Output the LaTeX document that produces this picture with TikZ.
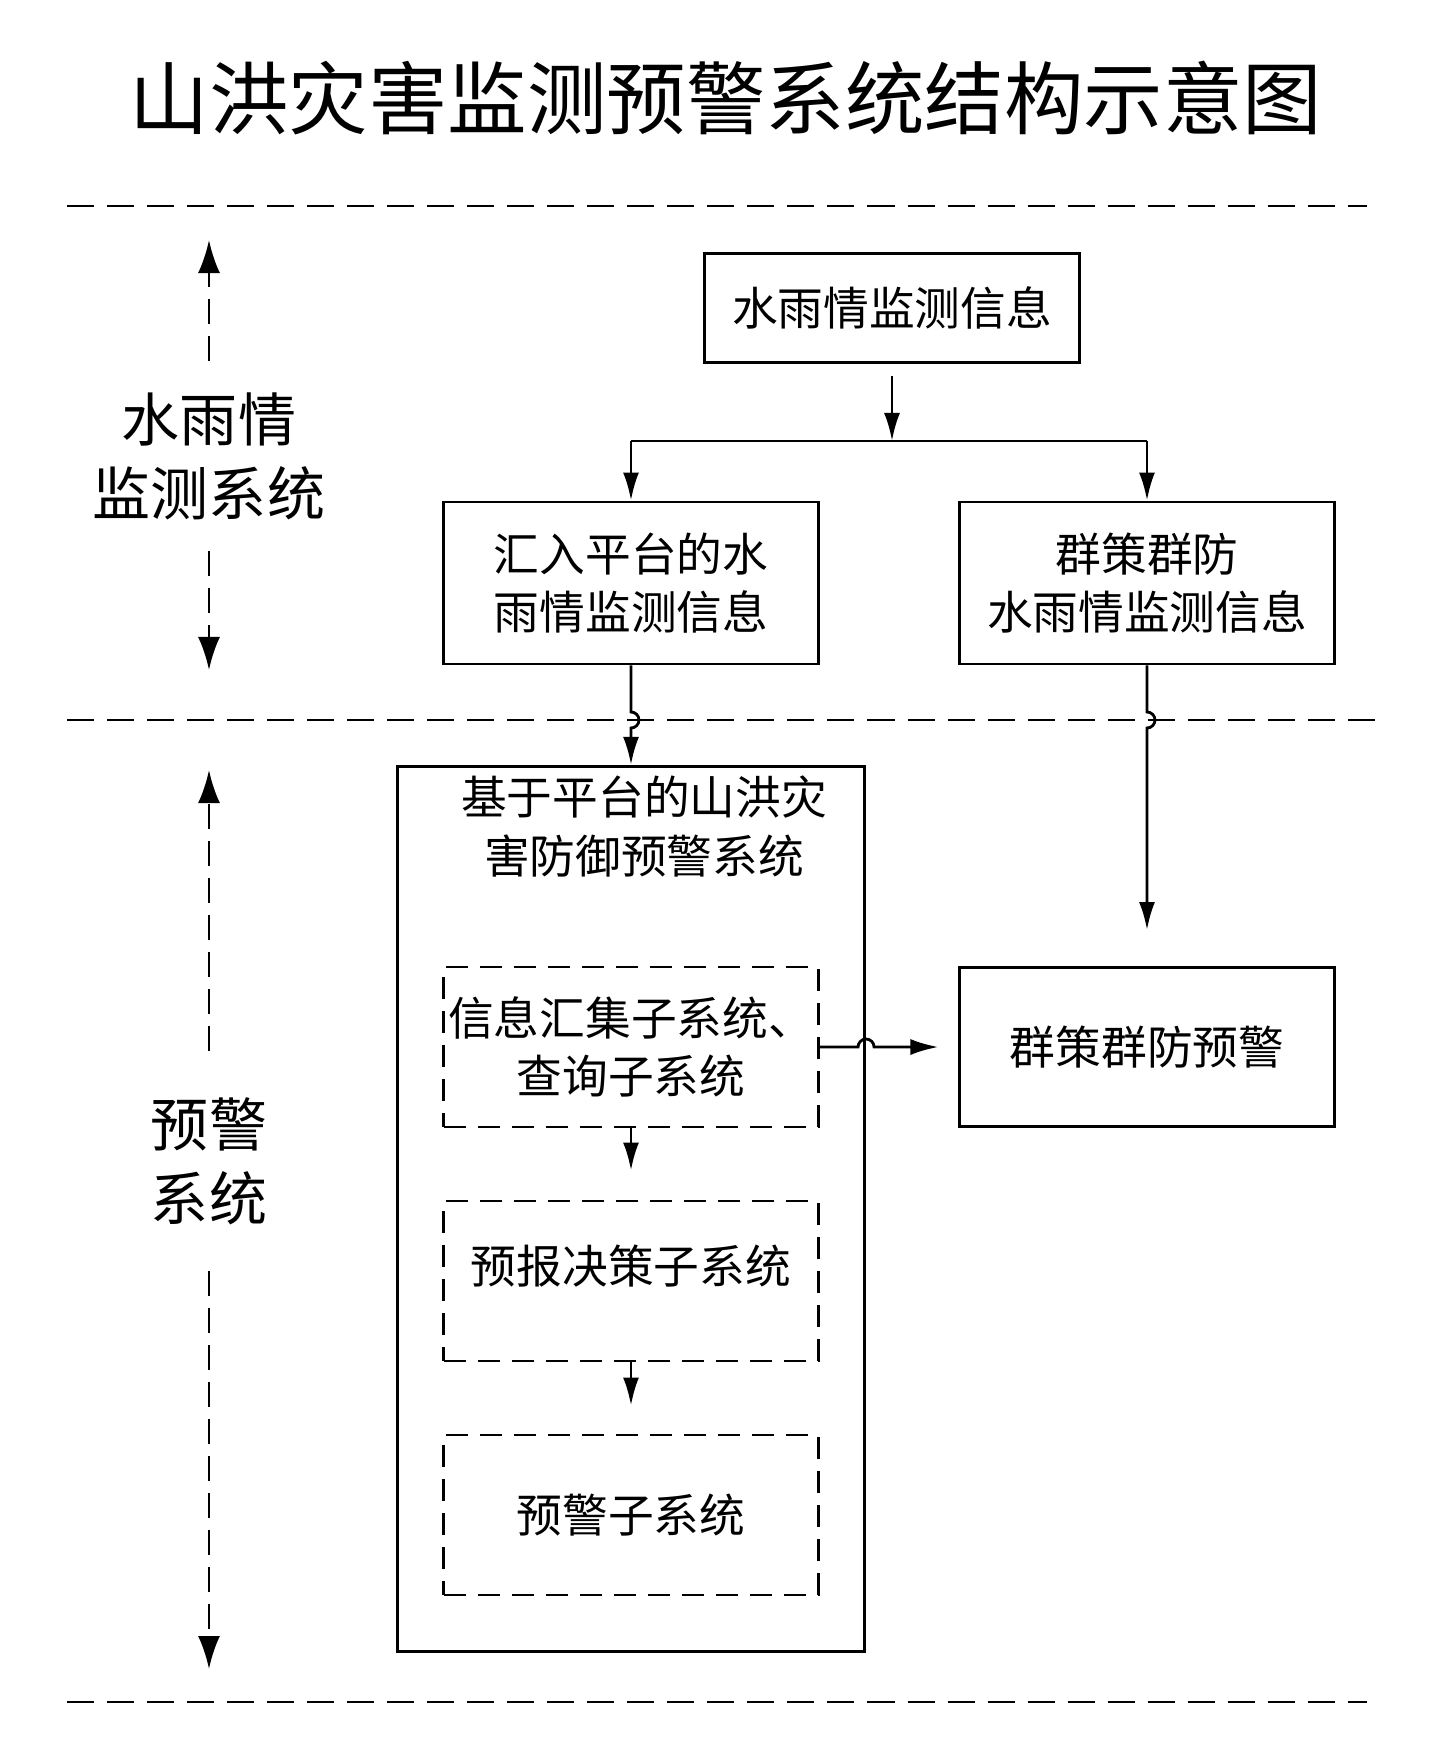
\documentclass[tikz,border=0pt]{standalone}
\usepackage{fontspec}
\setmainfont{Noto Sans CJK SC}
\usetikzlibrary{arrows.meta,positioning,calc}

\begin{document}
\begin{tikzpicture}[x=0.01cm,y=-0.01cm,line width=0.8pt,
   box/.style={draw,rectangle,minimum width=3.74cm,align=center,
      font=\fontsize{13}{16.5}\selectfont},
   subbox/.style={box,dash pattern=on 0.22cm off 0.12cm,minimum height=1.6cm,
      inner xsep=1pt},
   divider/.style={dash pattern=on 0.27cm off 0.13cm},
   rangearrow/.style={dash pattern=on 0.25cm off 0.12cm,
      -{Latex[length=0.33cm,width=0.22cm]}},
   sidelabel/.style={align=center,inner sep=0.3cm,
      font=\fontsize{16.5}{21}\selectfont},
   flow/.style={-{Latex[length=0.28cm,width=0.16cm]}}]
\useasboundingbox (0,0) rectangle (1440,1751);

\node[font=\fontsize{22.6}{26}\selectfont] (title) at (726,98)
   {山洪灾害监测预警系统结构示意图};

% dividers
\coordinate (d1l) at (67,206);  \coordinate (d1r) at (1367,206);
\coordinate (d2l) at (67,720);  \coordinate (d2r) at (1384,720);
\coordinate (d3l) at (67,1702); \coordinate (d3r) at (1367,1702);
\draw[divider] (d1l) -- (d1r);
\draw[divider] (d2l) -- (d2r);
\draw[divider] (d3l) -- (d3r);

% side labels
\node[sidelabel] (monitor) at (209,456) {水雨情\\监测系统};
\coordinate (montop) at (209,240);
\coordinate (monbot) at (209,670);
\draw[rangearrow] (monitor.north) -- (montop);
\draw[rangearrow] (monitor.south) -- (monbot);

\node[sidelabel,inner sep=0.45cm] (warning) at (209,1161) {预警\\系统};
\coordinate (wartop) at (209,770);
\coordinate (warbot) at (209,1669);
\draw[rangearrow] (warning.north) -- (wartop);
\draw[rangearrow] (warning.south) -- (warbot);

% boxes
\node[box,minimum height=1.09cm] (rain) at (892,308) {水雨情监测信息};
\node[box,minimum height=1.62cm] (platrain) at (631,583)
   {汇入平台的水\\雨情监测信息};
\node[box,minimum height=1.62cm,minimum width=3.75cm] (grouprain) at (1147,583)
   {群策群防\\水雨情监测信息};
\node[draw,minimum width=4.67cm,minimum height=8.85cm] (plat) at (631,1209) {};
\node[anchor=north,align=center,inner sep=0.1cm,xshift=0.13cm,
   font=\fontsize{13}{16.5}\selectfont] (platname) at (plat.north)
   {基于平台的山洪灾\\害防御预警系统};
\node[subbox] (collect) at (631,1047) {信息汇集子系统、\\查询子系统};
\node[subbox,text depth=0.33cm] (forecast) at (631,1281) {预报决策子系统};
\node[subbox] (alarm) at (631,1515) {预警子系统};
\node[box,minimum height=1.59cm] (groupwarn) at (1147,1047) {群策群防预警};

% connectors
\coordinate (split) at (892,441);
\draw[flow,shorten <=0.12cm] (rain) -- (split);
\draw (split -| platrain) -- (split -| grouprain);
\draw[flow] (split -| platrain) -- (platrain.north);
\draw[flow] (split -| grouprain) -- (grouprain.north);
\draw[flow] (platrain.south) -- ($(platrain.south |- d2l)+(0,-8)$)
   arc[start angle=90,end angle=-90,radius=0.08cm] -- (plat.north);
\draw[flow,shorten >=0.36cm] (grouprain.south) -- ($(grouprain.south |- d2l)+(0,-8)$)
   arc[start angle=90,end angle=-90,radius=0.08cm] -- (groupwarn.north);
\draw[flow,shorten >=0.2cm] (collect.east) -- ($(collect.east -| plat.east)+(-8,0)$)
   arc[start angle=180,end angle=0,radius=0.08cm] -- (groupwarn.west);
\draw[flow,shorten >=0.29cm] (collect) -- (forecast);
\draw[flow,shorten >=0.28cm] (forecast) -- (alarm);
\end{tikzpicture}
\end{document}
